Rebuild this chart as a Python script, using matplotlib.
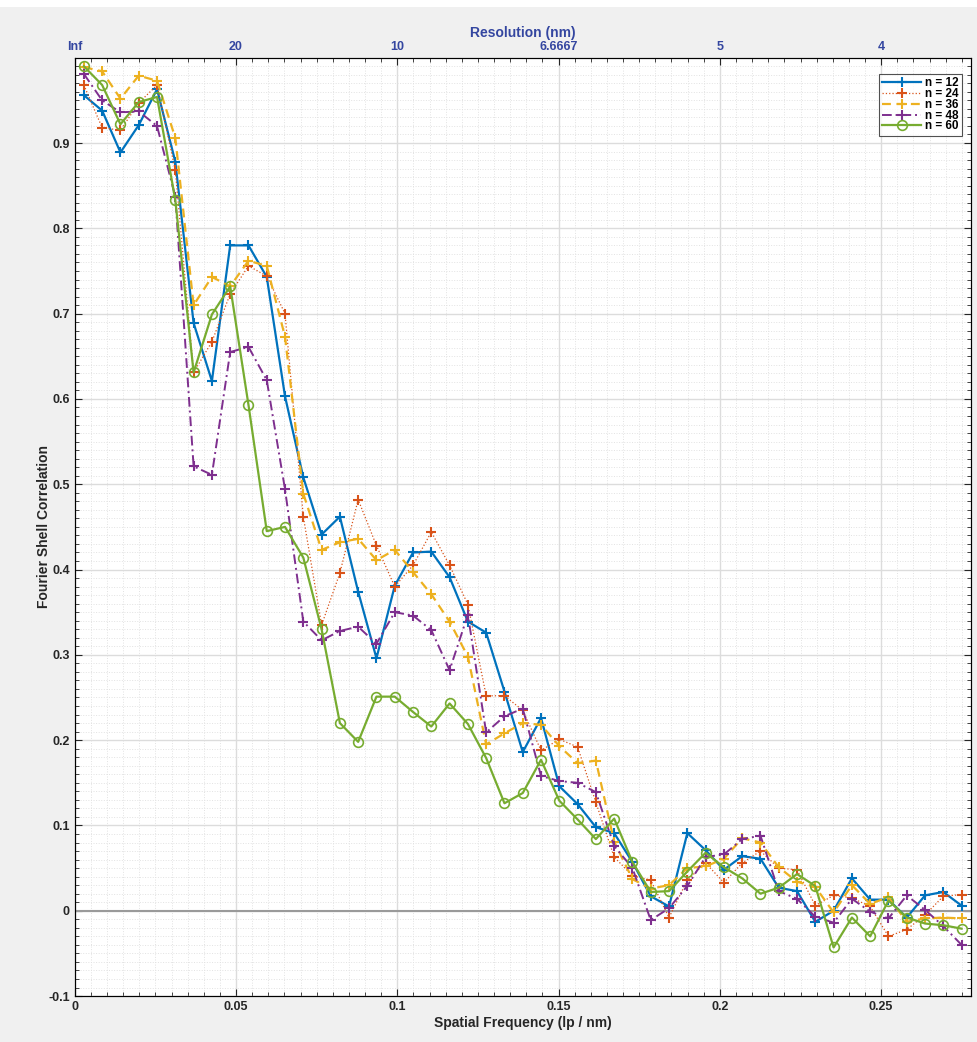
import numpy as np
import matplotlib
matplotlib.use("Agg")
import matplotlib.pyplot as plt
from matplotlib.ticker import MultipleLocator
from matplotlib.patches import Rectangle

# shell centre frequencies (lp / nm)
freq = [0.00283, 0.00850, 0.01417, 0.01984, 0.02551, 0.03118, 0.03685, 0.04252,
        0.04819, 0.05386, 0.05953, 0.06519, 0.07086, 0.07653, 0.08220, 0.08787,
        0.09354, 0.09921, 0.10488, 0.11054, 0.11621, 0.12188, 0.12755, 0.13322,
        0.13889, 0.14456, 0.15023, 0.15590, 0.16156, 0.16723, 0.17290, 0.17857,
        0.18424, 0.18991, 0.19558, 0.20125, 0.20692, 0.21259, 0.21825, 0.22392,
        0.22959, 0.23526, 0.24093, 0.24660, 0.25227, 0.25794, 0.26361, 0.26927,
        0.27494]

fsc_12 = [0.956, 0.938, 0.889, 0.921, 0.963, 0.878, 0.689, 0.621, 0.780, 0.780,
          0.743, 0.603, 0.508, 0.441, 0.462, 0.374, 0.296, 0.381, 0.420, 0.421,
          0.391, 0.339, 0.326, 0.257, 0.186, 0.226, 0.146, 0.125, 0.098, 0.091,
          0.057, 0.017, 0.005, 0.091, 0.071, 0.048, 0.064, 0.061, 0.027, 0.023,
          -0.013, 0.000, 0.038, 0.013, 0.013, -0.008, 0.018, 0.022, 0.006]

fsc_24 = [0.968, 0.918, 0.915, 0.947, 0.968, 0.868, 0.631, 0.667, 0.723, 0.756,
          0.744, 0.700, 0.462, 0.335, 0.396, 0.482, 0.428, 0.380, 0.405, 0.444,
          0.405, 0.359, 0.252, 0.252, 0.235, 0.188, 0.201, 0.192, 0.127, 0.063,
          0.041, 0.036, -0.008, 0.036, 0.056, 0.033, 0.056, 0.070, 0.050, 0.048,
          0.006, 0.018, 0.015, 0.005, -0.030, -0.022, -0.005, 0.017, 0.019]

fsc_36 = [0.989, 0.984, 0.952, 0.979, 0.973, 0.906, 0.710, 0.743, 0.732, 0.762,
          0.756, 0.673, 0.489, 0.423, 0.432, 0.436, 0.411, 0.423, 0.397, 0.371,
          0.339, 0.298, 0.195, 0.208, 0.220, 0.218, 0.193, 0.173, 0.176, 0.081,
          0.037, 0.026, 0.030, 0.050, 0.052, 0.061, 0.085, 0.080, 0.051, 0.034,
          0.028, -0.002, 0.030, 0.008, 0.016, -0.013, -0.009, -0.008, -0.009]

fsc_48 = [0.981, 0.950, 0.936, 0.937, 0.920, 0.837, 0.521, 0.511, 0.655, 0.661,
          0.622, 0.494, 0.339, 0.317, 0.328, 0.333, 0.313, 0.350, 0.346, 0.329,
          0.282, 0.347, 0.209, 0.228, 0.237, 0.158, 0.152, 0.150, 0.139, 0.076,
          0.050, -0.011, 0.003, 0.029, 0.063, 0.066, 0.084, 0.088, 0.023, 0.014,
          -0.007, -0.014, 0.014, -0.001, -0.009, 0.018, 0.001, -0.018, -0.040]

fsc_60 = [0.990, 0.968, 0.922, 0.948, 0.954, 0.833, 0.631, 0.699, 0.732, 0.593,
          0.445, 0.450, 0.414, 0.330, 0.220, 0.198, 0.251, 0.251, 0.233, 0.216,
          0.243, 0.219, 0.179, 0.126, 0.138, 0.177, 0.129, 0.107, 0.084, 0.108,
          0.057, 0.022, 0.023, 0.046, 0.068, 0.051, 0.038, 0.020, 0.027, 0.043,
          0.029, -0.043, -0.008, -0.030, 0.012, -0.008, -0.015, -0.017, -0.021]

top_ticks = [0, 0.05, 0.1, 0.15, 0.2, 0.25]
x_max = 1 / 3.6   # Nyquist

plt.rcParams['font.family'] = ['Liberation Sans', 'DejaVu Sans']
plt.rcParams['font.weight'] = 'bold'

fig = plt.figure(figsize=(9.77, 10.42), dpi=100, facecolor='#f0f0f0')
fig.patches.append(Rectangle((0, 1 - 7 / 1042), 1, 7 / 1042, transform=fig.transFigure,
                             facecolor='white', edgecolor='none', zorder=-10))

ax = fig.add_axes([0.0765, 0.0441, 0.9171, 0.9005])
ax.set_facecolor('white')

ax.axhline(0, color='#9a9a9a', lw=1.5, zorder=1)

ax.plot(freq, fsc_12, color='#0072BD', ls='-', lw=1.6, marker='+', ms=7.5, mew=1.5, label='n = 12', zorder=3)
ax.plot(freq, fsc_24, color='#D95319', ls=':', lw=0.9, marker='+', ms=7.5, mew=1.5, label='n = 24', zorder=3)
ax.plot(freq, fsc_36, color='#EDB120', ls=(0, (4, 2.5)), lw=1.6, marker='+', ms=7.5, mew=1.5,
        label='n = 36', zorder=3)
ax.plot(freq, fsc_48, color='#7E2F8E', ls=(0, (5, 2, 1, 2)), lw=1.4, marker='+', ms=7.5, mew=1.5,
        label='n = 48', zorder=3)
ax.plot(freq, fsc_60, color='#77AC30', ls='-', lw=1.6, marker='o', ms=7, mfc='none', mew=1.2,
        label='n = 60', zorder=3)

ax.set_xlim(0, x_max)
ax.set_ylim(-0.1, 1.0)
ax.set_xticks(top_ticks)
ax.set_xticklabels(['0', '0.05', '0.1', '0.15', '0.2', '0.25'])
ax.set_yticks(np.round(np.arange(-0.1, 0.91, 0.1), 1))
ax.set_yticklabels(['-0.1', '0', '0.1', '0.2', '0.3', '0.4', '0.5', '0.6', '0.7', '0.8', '0.9'])
ax.xaxis.set_minor_locator(MultipleLocator(0.005))
ax.yaxis.set_minor_locator(MultipleLocator(0.01))
ax.grid(which='major', color='#dcdcdc', lw=1, ls='-')
ax.grid(which='minor', color='#e2e2e2', lw=0.7, ls=':')
ax.set_axisbelow(True)
ax.tick_params(which='both', direction='in', top=False, right=True, labelsize=9, colors='#262626')
ax.tick_params(which='major', length=5, width=0.8)
ax.tick_params(which='minor', length=3, width=0.6)
for s in ax.spines.values():
    s.set_color('#262626')
    s.set_linewidth(0.8)

ax.set_xlabel('Spatial Frequency (lp / nm)', fontsize=10, fontweight='bold', color='#262626', labelpad=2)
ax.set_ylabel('Fourier Shell Correlation', fontsize=10, fontweight='bold', color='#262626', labelpad=-2)

# resolution axis on top
top = ax.twiny()
top.set_xlim(ax.get_xlim())
top.set_xticks(top_ticks)
top.set_xticklabels(['Inf' if t == 0 else f'{1 / t:.5g}' for t in top_ticks])
top.xaxis.set_minor_locator(MultipleLocator(0.005))
top.tick_params(which='both', direction='in', labelsize=9, colors='#262626', labelcolor='#3446a0')
top.tick_params(which='major', length=5, width=0.8)
top.tick_params(which='minor', length=3, width=0.6)
top.set_xlabel('Resolution (nm)', fontsize=10, fontweight='bold', color='#3446a0', labelpad=3)

leg = ax.legend(loc='upper right', bbox_to_anchor=(0.990, 0.983), borderaxespad=0, fontsize=8.5,
                frameon=True, fancybox=False, edgecolor='#262626', handlelength=3.3,
                handletextpad=0.3, borderpad=0.3, labelspacing=-0.1)
leg.get_frame().set_linewidth(0.8)

fig.savefig('out.png', dpi=100, facecolor=fig.get_facecolor())
